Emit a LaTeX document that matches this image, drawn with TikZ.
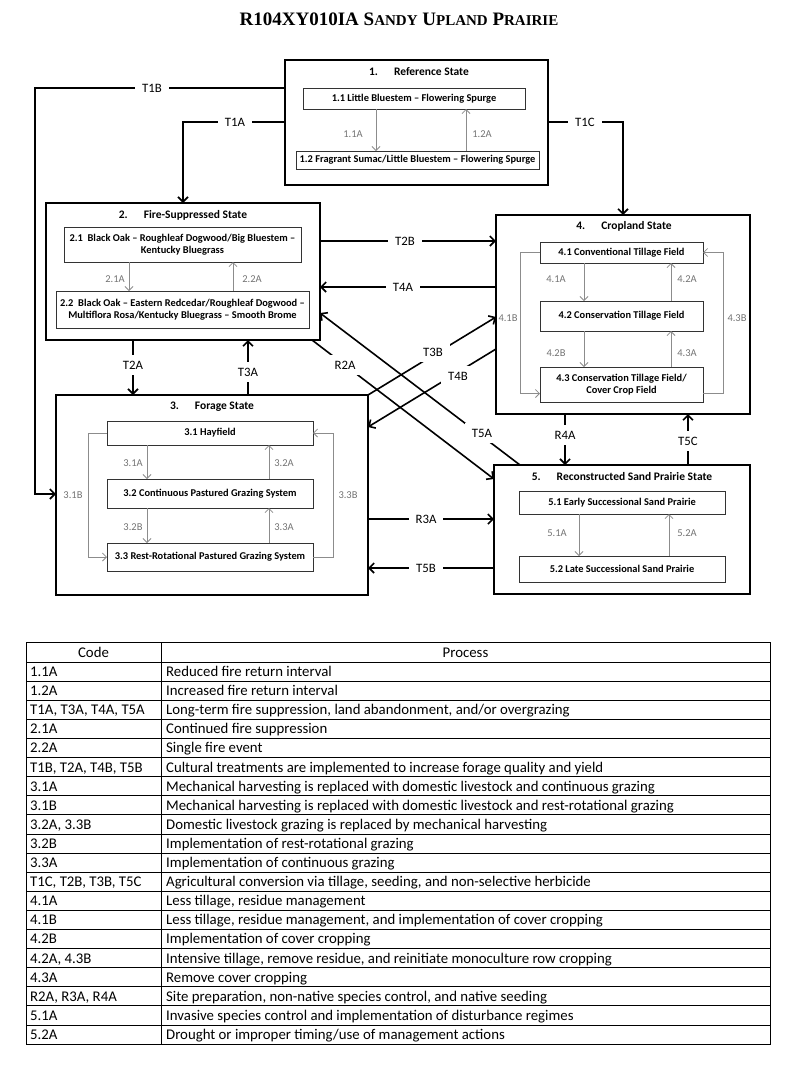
\documentclass[tikz,border=0pt]{standalone}
\usepackage{fontspec}
\setmainfont{Carlito}
\newfontfamily\titlefont{Liberation Serif}
\usetikzlibrary{positioning,arrows.meta,calc}
\newcommand{\fakesc}[2]{{\fontsize{19}{21}\selectfont #1}{\fontsize{15}{17}\selectfont #2}}
\tikzset{
  state/.style={draw, line width=1.6pt, anchor=north west, inner sep=0pt, outer sep=0pt},
  statetitle/.style={font=\fontsize{11.5}{13}\selectfont\bfseries},
  phase/.style={draw=black!80, line width=1pt, align=center, inner sep=0pt, outer sep=0pt,
    font=\fontsize{10.4}{12.5}\selectfont\bfseries},
  trans/.style={line width=1.6pt, -{Straight Barb[length=5pt,width=10pt]}},
  translabel/.style={fill=white, inner xsep=7pt, inner ysep=6pt, font=\fontsize{12.8}{14}\selectfont},
  pathway/.style={draw=black!45, line width=0.8pt, -{Straight Barb[length=4pt,width=8pt]}},
  pathlabel/.style={text=black!55, font=\fontsize{10.5}{12}\selectfont},
  tablerule/.style={line width=0.8pt},
  cell/.style={anchor=base west, inner sep=0pt, font=\fontsize{14.8}{16}\selectfont}
}

\begin{document}
\begin{tikzpicture}[x=1pt, y=-1pt]
\useasboundingbox (0,0) rectangle (800,1066);

\node (title) at (399,19) {\titlefont\bfseries\fontsize{19}{21}\selectfont R104XY010IA \fakesc{S}{ANDY} \fakesc{U}{PLAND} \fakesc{P}{RAIRIE}};

% state 1
\node[state, minimum width=263pt, minimum height=125pt] (s1) at (285,60) {};
\node[statetitle] (h1) at (419,72) {1.\hspace{16pt}Reference State};
\node[phase, minimum width=222pt, minimum height=21pt] (b11) at (414,98.5) {1.1 Little Bluestem -- Flowering Spurge};
\node[phase, minimum width=243pt, minimum height=18pt] (b12) at (417.5,160) {1.2 Fragrant Sumac/Little Bluestem -- Flowering Spurge};

% state 2
\node[state, minimum width=274pt, minimum height=137pt] (s2) at (46,203) {};
\node[statetitle] (h2) at (183,215) {2.\hspace{16pt}Fire-Suppressed State};
\node[phase, minimum width=237pt, minimum height=35pt] (b21) at (182.5,244.5) {2.1\ \ Black Oak -- Roughleaf Dogwood/Big Bluestem --\\Kentucky Bluegrass};
\node[phase, minimum width=253pt, minimum height=37pt] (b22) at (182.5,309.5) {2.2\ \ Black Oak -- Eastern Redcedar/Roughleaf Dogwood --\\Multiflora Rosa/Kentucky Bluegrass -- Smooth Brome};

% state 3
\node[state, minimum width=312pt, minimum height=200pt] (s3) at (56,395) {};
\node[statetitle] (h3) at (212,407) {3.\hspace{16pt}Forage State};
\node[phase, minimum width=206pt, minimum height=24pt] (b31) at (210,433) {3.1 Hayfield};
\node[phase, minimum width=206pt, minimum height=29pt] (b32) at (210,493.5) {3.2 Continuous Pastured Grazing System};
\node[phase, minimum width=206pt, minimum height=28pt] (b33) at (210,557) {3.3 Rest-Rotational Pastured Grazing System};

% state 4
\node[state, minimum width=254pt, minimum height=199pt] (s4) at (496,215) {};
\node[statetitle] (h4) at (624,226) {4.\hspace{16pt}Cropland State};
\node[phase, minimum width=163pt, minimum height=21pt] (b41) at (621.5,252.5) {4.1 Conventional Tillage Field};
\node[phase, minimum width=163pt, minimum height=30pt] (b42) at (621.5,316) {4.2 Conservation Tillage Field};
\node[phase, minimum width=163pt, minimum height=35pt] (b43) at (621.5,384.5) {4.3 Conservation Tillage Field/\\Cover Crop Field};

% state 5
\node[state, minimum width=256pt, minimum height=129pt] (s5) at (494,465) {};
\node[statetitle] (h5) at (622,476) {5.\hspace{16pt}Reconstructed Sand Prairie State};
\node[phase, minimum width=206pt, minimum height=23pt] (b51) at (622,502.5) {5.1 Early Successional Sand Prairie};
\node[phase, minimum width=206pt, minimum height=26pt] (b52) at (622,569) {5.2 Late Successional Sand Prairie};

% community pathways
\draw[pathway] (376,0 |- b11.south) -- (376,0 |- b12.north);
\draw[pathway] (466,0 |- b12.north) -- (466,0 |- b11.south);
\draw[pathway] (129,0 |- b21.south) -- (129,0 |- b22.north);
\draw[pathway] (233,0 |- b22.north) -- (233,0 |- b21.south);
\draw[pathway] (147,0 |- b31.south) -- (147,0 |- b32.north);
\draw[pathway] (269,0 |- b32.north) -- (269,0 |- b31.south);
\draw[pathway] (147,0 |- b32.south) -- (147,0 |- b33.north);
\draw[pathway] (269,0 |- b33.north) -- (269,0 |- b32.south);
\draw[pathway] (b31.west) -- (88,0 |- b31.west) -- (88,0 |- b33.west) -- (b33.west);
\draw[pathway] (b33.east) -- (333,0 |- b33.east) -- (333,0 |- b31.east) -- (b31.east);
\coordinate (b43lo) at ($(b43.west)+(0,9)$);
\coordinate (b43ro) at ($(b43.east)+(0,9)$);
\draw[pathway] (584,0 |- b41.south) -- (584,0 |- b42.north);
\draw[pathway] (671,0 |- b42.north) -- (671,0 |- b41.south);
\draw[pathway] (584,0 |- b42.south) -- (584,0 |- b43.north);
\draw[pathway] (671,0 |- b43.north) -- (671,0 |- b42.south);
\draw[pathway] (b41.west) -- (520,0 |- b41.west) -- (520,0 |- b43lo) -- (b43lo);
\draw[pathway] (b43ro) -- (723,0 |- b43ro) -- (723,0 |- b41.east) -- (b41.east);
\draw[pathway] (579,0 |- b51.south) -- (579,0 |- b52.north);
\draw[pathway] (669,0 |- b52.north) -- (669,0 |- b51.south);

\node[pathlabel] (p11a) at (353,134) {1.1A};
\node[pathlabel] (p12a) at (482,134) {1.2A};
\node[pathlabel] (p21a) at (115,279) {2.1A};
\node[pathlabel] (p22a) at (252,279) {2.2A};
\node[pathlabel] (p31a) at (133,463) {3.1A};
\node[pathlabel] (p32a) at (284,463) {3.2A};
\node[pathlabel] (p32b) at (133,527) {3.2B};
\node[pathlabel] (p33a) at (284,527) {3.3A};
\node[pathlabel] (p31b) at (73,495) {3.1B};
\node[pathlabel] (p33b) at (348,495) {3.3B};
\node[pathlabel] (p41a) at (556,279) {4.1A};
\node[pathlabel] (p42a) at (687,279) {4.2A};
\node[pathlabel] (p42b) at (556,353) {4.2B};
\node[pathlabel] (p43a) at (687,353) {4.3A};
\node[pathlabel] (p41b) at (508,318) {4.1B};
\node[pathlabel] (p43b) at (737,318) {4.3B};
\node[pathlabel] (p51a) at (557,533) {5.1A};
\node[pathlabel] (p52a) at (687,533) {5.2A};

% transitions
\coordinate (k1b) at (35,88);
\coordinate (k1bb) at (35,494);
\coordinate (k1a) at (183,122);
\coordinate (k1c) at (623,122);
\draw[trans] (s1.west |- k1b) -- (k1b) -- (k1bb) -- (s3.west |- k1bb);
\draw[trans] (s1.west |- k1a) -- (k1a) -- (k1a |- s2.north);
\draw[trans] (s1.east |- k1c) -- (k1c) -- (k1c |- s4.north);
\draw[trans] (s2.east |- 0,241) -- (s4.west |- 0,241);
\draw[trans] (s4.west |- 0,287) -- (s2.east |- 0,287);
\draw[trans] (133,0 |- s2.south) -- (133,0 |- s3.north);
\draw[trans] (248,0 |- s3.north) -- (248,0 |- s2.south);
\draw[trans] ($(s2.south east)+(-8,0)$) -- (s5.west |- 0,479);
\draw[trans] ($(s5.north west)+(26,0)$) -- (s2.east |- 0,313);
\draw[trans] (s3.north east) -- (s4.west |- 0,317);
\draw[trans] (s4.west |- 0,349) -- (s3.east |- 0,427);
\draw[trans] (565,0 |- s4.south) -- (565,0 |- s5.north);
\draw[trans] (688,0 |- s5.north) -- (688,0 |- s4.south);
\draw[trans] (s3.east |- 0,519) -- (s5.west |- 0,519);
\draw[trans] (s5.west |- 0,568) -- (s3.east |- 0,568);

\node[translabel] (lt1b) at (152,88) {T1B};
\node[translabel] (lt1a) at (235,122) {T1A};
\node[translabel] (lt1c) at (585,122) {T1C};
\node[translabel] (lt2b) at (405,241) {T2B};
\node[translabel] (lt4a) at (403,287) {T4A};
\node[translabel] (lt2a) at (133,365) {T2A};
\node[translabel] (lt3a) at (248,372) {T3A};
\node[translabel] (lr2a) at (345,365) {R2A};
\node[translabel] (lt5a) at (482,433) {T5A};
\node[translabel] (lt3b) at (433,352) {T3B};
\node[translabel] (lt4b) at (458,376) {T4B};
\node[translabel] (lr4a) at (565,435) {R4A};
\node[translabel] (lt5c) at (688,441) {T5C};
\node[translabel] (lr3a) at (426,519) {R3A};
\node[translabel] (lt5b) at (426,568) {T5B};

% legend table
\draw[tablerule] (26,642) rectangle (770,1044);
\draw[tablerule] (161,642) -- (161,1044);
\draw[tablerule] (26,662) -- (770,662);
\node[cell, anchor=base] (codehead) at (93.5,657) {Code};
\node[cell, anchor=base] (prochead) at (465.5,657) {Process};
\foreach \code/\proc [count=\r] in {
  {1.1A}/{Reduced fire return interval},
  {1.2A}/{Increased fire return interval},
  {T1A, T3A, T4A, T5A}/{Long-term fire suppression, land abandonment, and/or overgrazing},
  {2.1A}/{Continued fire suppression},
  {2.2A}/{Single fire event},
  {T1B, T2A, T4B, T5B}/{Cultural treatments are implemented to increase forage quality and yield},
  {3.1A}/{Mechanical harvesting is replaced with domestic livestock and continuous grazing},
  {3.1B}/{Mechanical harvesting is replaced with domestic livestock and rest-rotational grazing},
  {3.2A, 3.3B}/{Domestic livestock grazing is replaced by mechanical harvesting},
  {3.2B}/{Implementation of rest-rotational grazing},
  {3.3A}/{Implementation of continuous grazing},
  {T1C, T2B, T3B, T5C}/{Agricultural conversion via tillage, seeding, and non-selective herbicide},
  {4.1A}/{Less tillage, residue management},
  {4.1B}/{Less tillage, residue management, and implementation of cover cropping},
  {4.2B}/{Implementation of cover cropping},
  {4.2A, 4.3B}/{Intensive tillage, remove residue, and reinitiate monoculture row cropping},
  {4.3A}/{Remove cover cropping},
  {R2A, R3A, R4A}/{Site preparation, non-native species control, and native seeding},
  {5.1A}/{Invasive species control and implementation of disturbance regimes},
  {5.2A}/{Drought or improper timing/use of management actions}
}{
  \node[cell] (code\r) at (30,{662+19.1*\r-4.6}) {\code};
  \node[cell] (proc\r) at (166,{662+19.1*\r-4.6}) {\proc};
  \ifnum\r<20 \draw[tablerule] (26,{662+19.1*\r}) -- (770,{662+19.1*\r}); \fi
}

\end{tikzpicture}
\end{document}
